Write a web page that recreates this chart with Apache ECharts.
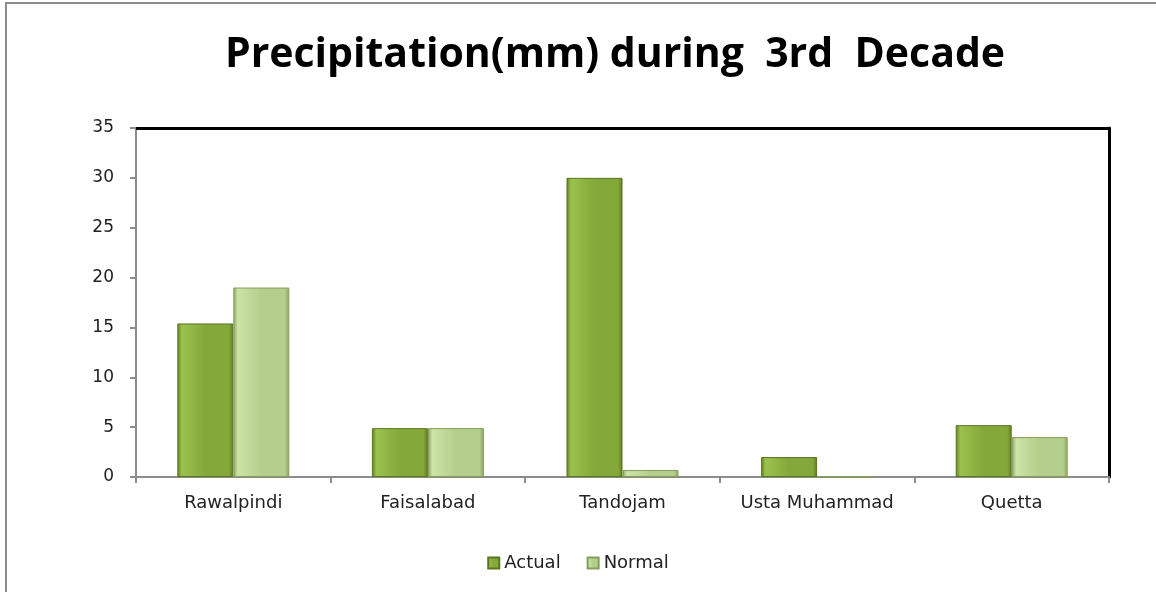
<!DOCTYPE html>
<html>
<head>
<meta charset="utf-8">
<script src="https://cdn.jsdelivr.net/npm/echarts@6/dist/echarts.min.js"></script>
<style>
html,body{margin:0;padding:0;background:#fff;}
#c{width:1156px;height:592px;}
#frame{position:absolute;left:5px;top:2px;width:1160px;height:600px;border-left:2px solid #8c8c8c;border-top:2px solid #8c8c8c;pointer-events:none;}
</style>
</head>
<body>
<div id="c"></div>
<div id="frame"></div>
<script>
var categories = ['Rawalpindi', 'Faisalabad', 'Tandojam', 'Usta Muhammad', 'Quetta'];
var actual = [15.4, 4.9, 30.0, 2.0, 5.2];
var normal = [19.0, 4.9, 0.7, 0, 4.0];
var yTicks = [0, 5, 10, 15, 20, 25, 30, 35];

function grad(edge, mid, light) {
  return new echarts.graphic.LinearGradient(0, 0, 1, 0, [
    {offset: 0, color: edge},
    {offset: 0.08, color: light},
    {offset: 0.5, color: mid},
    {offset: 0.92, color: mid},
    {offset: 1, color: edge}
  ]);
}

var chart = echarts.init(document.getElementById('c'), null, {renderer: 'canvas'});
chart.setOption({
  animation: false,
  backgroundColor: '#ffffff',
  title: {
    text: 'Precipitation(mm) during  3rd  Decade',
    left: 610,
    top: 30,
    textAlign: 'center',
    textStyle: {fontFamily: 'Open Sans', fontWeight: 'bold', fontSize: 41, color: '#000'}
  },
  legend: {
    data: ['Actual', 'Normal'],
    left: 'center',
    top: 549,
    itemWidth: 11,
    itemHeight: 11,
    itemGap: 26,
    icon: 'rect',
    textStyle: {fontFamily: 'DejaVu Sans', fontSize: 18, color: '#222'}
  },
  grid: {left: 136, right: 47, top: 128, bottom: 115, show: false},
  xAxis: {
    type: 'category',
    data: categories,
    axisLine: {lineStyle: {color: '#8c8c8c', width: 2}},
    axisTick: {show: true, interval: 0, alignWithLabel: false, length: 6, lineStyle: {color: '#8c8c8c', width: 2}},
    axisLabel: {interval: 0, hideOverlap: false, fontFamily: 'DejaVu Sans', fontSize: 18, color: '#222', margin: 17}
  },
  yAxis: [{
    type: 'value',
    min: 0, max: 35, interval: 5,
    axisLine: {show: true, lineStyle: {color: '#8c8c8c', width: 2}},
    axisTick: {show: true, length: 6, lineStyle: {color: '#8c8c8c', width: 2}},
    splitLine: {show: false},
    axisLabel: {fontFamily: 'DejaVu Sans', fontSize: 17, color: '#222', margin: 22,
      formatter: function (v) { return yTicks.indexOf(v) >= 0 ? String(v) : ''; }}
  }, {
    type: 'value',
    position: 'right',
    min: 0, max: 35, interval: 5,
    axisLine: {show: true, lineStyle: {color: '#000', width: 3}},
    axisTick: {show: false},
    axisLabel: {show: false},
    splitLine: {show: false}
  }],
  series: [{
    name: 'Actual',
    type: 'bar',
    data: actual,
    barWidth: 56,
    barGap: '0%',
    itemStyle: {color: grad('#5f7d22', '#84a83a', '#9cc24e'), borderColor: '#5a7520', borderWidth: 1},
    markLine: {
      silent: true, symbol: 'none', label: {show: false},
      lineStyle: {color: '#000', width: 3, type: 'solid'},
      data: [{yAxis: 35}]
    }
  }, {
    name: 'Normal',
    type: 'bar',
    data: normal,
    barWidth: 56,
    itemStyle: {color: grad('#8aa35e', '#b4cf8c', '#cde3a8'), borderColor: '#859d5a', borderWidth: 1}
  }]
});
</script>
</body>
</html>
